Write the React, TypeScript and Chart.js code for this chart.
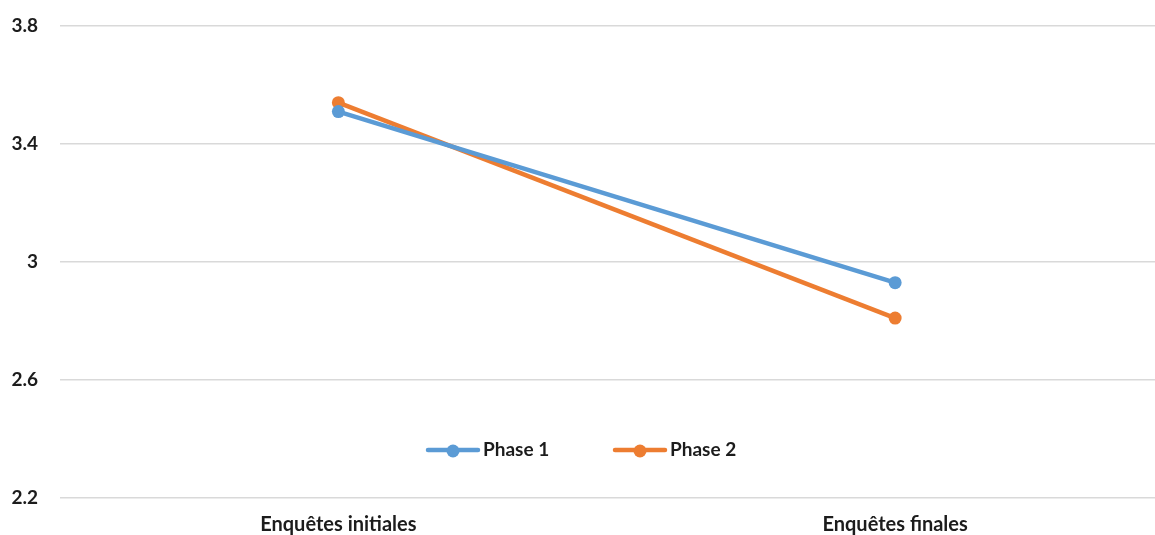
import React, { useEffect, useRef } from "react";
import { Chart, registerables } from "chart.js";

Chart.register(...registerables);

const categories = ["Enquêtes initiales", "Enquêtes finales"];
const phase1 = [3.51, 2.93];
const phase2 = [3.54, 2.81];
const yTicks = [2.2, 2.6, 3.0, 3.4, 3.8];

const BLUE = "#5B9BD5";
const ORANGE = "#ED7D31";
const TEXT = "#1c1c1c";
const FONT = "Lato, 'Liberation Sans', sans-serif";

// Legend drawn inside the plot, under the lines
const insideLegend = {
  id: "insideLegend",
  afterDraw(chart: any) {
    const ctx = chart.ctx;
    const y = 450;
    const items = [
      { x: 428, label: "Phase 1", color: BLUE },
      { x: 615, label: "Phase 2", color: ORANGE },
    ];
    ctx.save();
    items.forEach((it) => {
      ctx.strokeStyle = it.color;
      ctx.lineWidth = 4.5;
      ctx.lineCap = "round";
      ctx.beginPath();
      ctx.moveTo(it.x, y);
      ctx.lineTo(it.x + 50, y);
      ctx.stroke();
      ctx.fillStyle = it.color;
      ctx.beginPath();
      ctx.arc(it.x + 25, y + 1, 6.5, 0, Math.PI * 2);
      ctx.fill();
      ctx.fillStyle = TEXT;
      ctx.font = `bold 19px ${FONT}`;
      ctx.textAlign = "left";
      ctx.textBaseline = "middle";
      ctx.fillText(it.label, it.x + 55, y);
    });
    ctx.restore();
  },
};

export default function App() {
  const canvasRef = useRef<HTMLCanvasElement | null>(null);

  useEffect(() => {
    if (!canvasRef.current) return;
    const chart = new Chart(canvasRef.current, {
      type: "line",
      data: {
        labels: categories,
        datasets: [
          {
            label: "Phase 1",
            data: phase1,
            borderColor: BLUE,
            backgroundColor: BLUE,
            borderWidth: 4.5,
            pointRadius: 6.5,
            pointHoverRadius: 6.5,
            pointBorderWidth: 0,
            tension: 0,
          },
          {
            label: "Phase 2",
            data: phase2,
            borderColor: ORANGE,
            backgroundColor: ORANGE,
            borderWidth: 4.5,
            pointRadius: 6.5,
            pointHoverRadius: 6.5,
            pointBorderWidth: 0,
            tension: 0,
          },
        ],
      },
      options: {
        animation: false,
        responsive: true,
        maintainAspectRatio: false,
        layout: { padding: { top: 26, left: 0, right: 0, bottom: 0 } },
        plugins: {
          legend: { display: false },
          tooltip: { enabled: false },
        },
        scales: {
          x: {
            offset: true,
            grid: { display: false, drawTicks: false },
            border: { display: false },
            ticks: {
              padding: 15,
              color: TEXT,
              font: { family: FONT, size: 20, weight: "bold" },
            },
            afterFit: (scale: any) => {
              scale.height = 37;
              scale.paddingLeft = 0;
              scale.paddingRight = 0;
            },
          },
          y: {
            min: 2.2,
            max: 3.8,
            afterBuildTicks: (scale: any) => {
              scale.ticks = yTicks.map((v) => ({ value: v }));
            },
            grid: {
              color: "#d9d9d9",
              lineWidth: 1.5,
              drawTicks: false,
            },
            border: { display: false },
            ticks: {
              padding: 22,
              color: TEXT,
              font: { family: FONT, size: 19, weight: "bold" },
              callback: (v: any) => String(Number(v)),
            },
            afterFit: (scale: any) => {
              scale.width = 60;
              scale.paddingTop = 0;
              scale.paddingBottom = 0;
            },
          },
        },
      },
      plugins: [insideLegend],
    });
    return () => chart.destroy();
  }, []);

  return (
    <div
      style={{
        position: "fixed",
        left: 0,
        top: 0,
        width: 1155,
        height: 535,
        overflow: "hidden",
        background: "#fff",
      }}
    >
      <div style={{ position: "relative", width: 1180, height: 535 }}>
        <canvas ref={canvasRef} />
      </div>
    </div>
  );
}
